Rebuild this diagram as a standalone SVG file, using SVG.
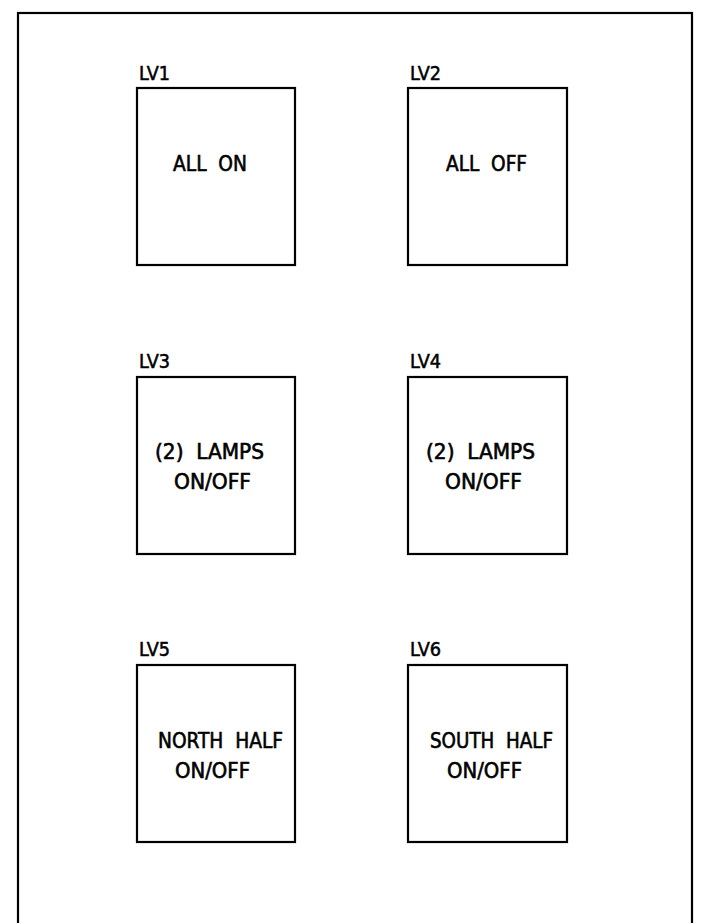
<svg xmlns="http://www.w3.org/2000/svg" width="727" height="923" viewBox="0 0 727 923">
<style>
.box{fill:none;stroke:#000;stroke-width:2.2}
.lbl{font-family:"DejaVu Sans Condensed","DejaVu Sans",sans-serif;font-size:19px;fill:#000;stroke:#000;stroke-width:0.5}
.t{font-family:"DejaVu Sans Condensed","DejaVu Sans",sans-serif;font-size:22px;fill:#000;stroke:#000;stroke-width:0.6;white-space:pre}
</style>
<rect width="727" height="923" fill="#fff"/>
<rect x="18" y="13" width="674" height="912" class="box"/>
<g id="LV1"><rect x="137" y="88" width="158" height="177" class="box"/><text x="139" y="80" class="lbl" textLength="31" lengthAdjust="spacingAndGlyphs">LV1</text><text x="173" y="171" class="t" textLength="74" lengthAdjust="spacingAndGlyphs">ALL  ON</text></g>
<g id="LV2"><rect x="408" y="88" width="159" height="177" class="box"/><text x="410" y="80" class="lbl" textLength="31" lengthAdjust="spacingAndGlyphs">LV2</text><text x="446" y="171" class="t" textLength="81" lengthAdjust="spacingAndGlyphs">ALL  OFF</text></g>
<g id="LV3"><rect x="137" y="377" width="158" height="177" class="box"/><text x="139" y="368" class="lbl" textLength="31" lengthAdjust="spacingAndGlyphs">LV3</text><text x="155" y="459" class="t" textLength="109" lengthAdjust="spacingAndGlyphs">(2)  LAMPS</text><text x="174" y="489" class="t" textLength="77" lengthAdjust="spacingAndGlyphs">ON/OFF</text></g>
<g id="LV4"><rect x="408" y="377" width="159" height="177" class="box"/><text x="410" y="368" class="lbl" textLength="31" lengthAdjust="spacingAndGlyphs">LV4</text><text x="426" y="459" class="t" textLength="109" lengthAdjust="spacingAndGlyphs">(2)  LAMPS</text><text x="445" y="489" class="t" textLength="77" lengthAdjust="spacingAndGlyphs">ON/OFF</text></g>
<g id="LV5"><rect x="137" y="665" width="158" height="177" class="box"/><text x="139" y="656" class="lbl" textLength="31" lengthAdjust="spacingAndGlyphs">LV5</text><text x="158" y="748" class="t" textLength="125" lengthAdjust="spacingAndGlyphs">NORTH  HALF</text><text x="175" y="778" class="t" textLength="75" lengthAdjust="spacingAndGlyphs">ON/OFF</text></g>
<g id="LV6"><rect x="408" y="665" width="159" height="177" class="box"/><text x="410" y="656" class="lbl" textLength="31" lengthAdjust="spacingAndGlyphs">LV6</text><text x="430" y="748" class="t" textLength="123" lengthAdjust="spacingAndGlyphs">SOUTH  HALF</text><text x="447" y="778" class="t" textLength="75" lengthAdjust="spacingAndGlyphs">ON/OFF</text></g>
<g id="connectors"/>
</svg>
